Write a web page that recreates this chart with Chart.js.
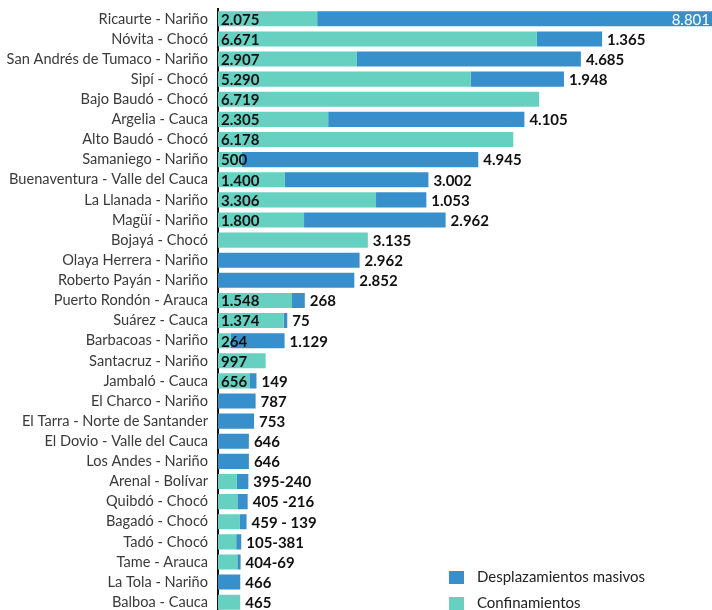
<!DOCTYPE html>
<html lang="es">
<head>
<meta charset="utf-8">
<script src="https://cdn.jsdelivr.net/npm/chart.js@4/dist/chart.umd.min.js"></script>
<style>
  html, body { margin: 0; padding: 0; background: #fff; overflow: hidden; }
  #grafico { display: block; margin-top: -10px; }
</style>
</head>
<body>
<canvas id="grafico" width="712" height="641"></canvas>
<script>
/* DATOS */
const municipios = [
  "Ricaurte - Nariño", "Nóvita - Chocó", "San Andrés de Tumaco - Nariño", "Sipí - Chocó",
  "Bajo Baudó - Chocó", "Argelia - Cauca", "Alto Baudó - Chocó", "Samaniego - Nariño",
  "Buenaventura - Valle del Cauca", "La Llanada - Nariño", "Magüí - Nariño", "Bojayá - Chocó",
  "Olaya Herrera - Nariño", "Roberto Payán - Nariño", "Puerto Rondón - Arauca", "Suárez - Cauca",
  "Barbacoas - Nariño", "Santacruz - Nariño", "Jambaló - Cauca", "El Charco - Nariño",
  "El Tarra - Norte de Santander", "El Dovio - Valle del Cauca", "Los Andes - Nariño", "Arenal - Bolívar",
  "Quibdó - Chocó", "Bagadó - Chocó", "Tadó - Chocó", "Tame - Arauca",
  "La Tola - Nariño", "Balboa - Cauca"
];

const confinamientos = [
  2075, 6671, 2907, 5290, 6719, 2305, 6178, 500, 1400, 3306,
  1800, 3135, 0, 0, 1548, 1374, 264, 997, 656, 0,
  0, 0, 0, 395, 405, 459, 381, 404, 0, 465
];

const desplazamientos = [
  8801, 1365, 4685, 1948, 0, 4105, 0, 4945, 3002, 1053,
  2962, 0, 2962, 2852, 268, 75, 1129, 0, 149, 787,
  753, 646, 646, 240, 216, 139, 105, 69, 466, 0
];

// texto que va al final de cada barra
const etiquetasFinales = [
  "8.801", "1.365", "4.685", "1.948", "", "4.105", "", "4.945", "3.002", "1.053",
  "2.962", "3.135", "2.962", "2.852", "268", "75", "1.129", "", "149", "787",
  "753", "646", "646", "395-240", "405 -216", "459 - 139", "105-381", "404-69", "466", "465"
];

/* HELPERS */
const fmt = v => v.toLocaleString("de-DE");
const AZUL = "#378fcb";
const VERDE = "#66d1c1";

/* PLUGINS */
const etiquetas = {
  id: "etiquetas",
  afterDatasetsDraw(chart) {
    const { ctx, chartArea } = chart;
    const topes = chart.getDatasetMeta(1).data;
    ctx.save();
    ctx.textBaseline = "middle";
    municipios.forEach((m, i) => {
      const y = topes[i].y + 1;
      const c = confinamientos[i];
      const fin = etiquetasFinales[i];
      ctx.font = "bold 15px Lato";
      ctx.fillStyle = "#111";
      if (c > 0 && !fin.includes(fmt(c))) {
        ctx.textAlign = "left";
        ctx.fillText(fmt(c), chartArea.left + 3, y);
      }
      if (!fin) return;
      const x = topes[i].x;
      if (x > chartArea.right - 20) {
        ctx.font = "15px Lato";
        ctx.fillStyle = "#fff";
        ctx.textAlign = "right";
        ctx.fillText(fin, chartArea.right - 2, y);
      } else {
        ctx.textAlign = "left";
        ctx.fillText(fin, x + 5, y);
      }
    });
    ctx.restore();
  }
};

const leyenda = {
  id: "leyenda",
  afterDraw(chart) {
    const { ctx, chartArea } = chart;
    const x = chartArea.right - 263;
    const filas = [[1, 587], [0, 613]];
    ctx.save();
    ctx.font = "15px Lato";
    ctx.textBaseline = "middle";
    ctx.textAlign = "left";
    filas.forEach(([d, y]) => {
      const ds = chart.data.datasets[d];
      ctx.fillStyle = ds.backgroundColor;
      ctx.fillRect(x, y - 6, 15, 13);
      ctx.fillStyle = "#222";
      ctx.fillText(ds.label, x + 28, y);
    });
    ctx.restore();
  }
};

/* CHART */
new Chart(document.getElementById("grafico"), {
  type: "bar",
  data: {
    labels: municipios,
    datasets: [
      { label: "Confinamientos", data: confinamientos, backgroundColor: VERDE },
      { label: "Desplazamientos masivos", data: desplazamientos, backgroundColor: AZUL }
    ]
  },
  options: {
    indexAxis: "y",
    responsive: false,
    animation: false,
    barPercentage: 0.75,
    categoryPercentage: 1,
    layout: { padding: 0 },
    plugins: {
      legend: { display: false },
      tooltip: { enabled: false }
    },
    scales: {
      x: {
        stacked: true,
        display: false,
        min: 0,
        max: 10335
      },
      y: {
        stacked: true,
        afterFit: s => { s.width = 218; },
        grid: { display: false, drawTicks: false },
        border: { display: true, color: "#111", width: 2 },
        ticks: {
          autoSkip: false,
          padding: 10,
          color: "#3a3a3a",
          font: { family: "Lato", size: 14.6 }
        }
      }
    }
  },
  plugins: [etiquetas, leyenda]
});
</script>
</body>
</html>
